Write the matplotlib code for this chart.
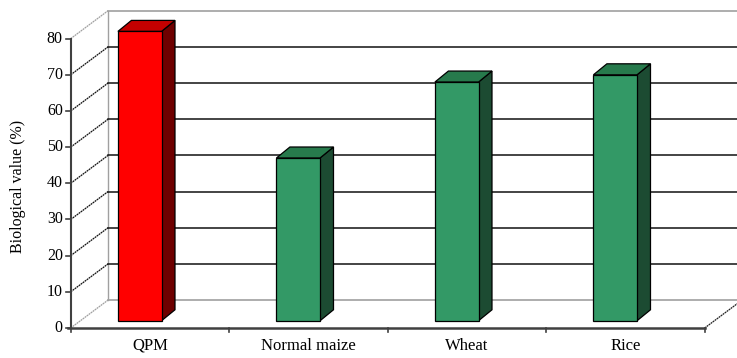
import matplotlib
matplotlib.use("Agg")
import matplotlib.pyplot as plt
from matplotlib.patches import Polygon, Rectangle

# ---- data ----
categories = ["QPM", "Normal maize", "Wheat", "Rice"]
values = [80, 45, 66, 68]
face_colors = ["#FF0000", "#339966", "#339966", "#339966"]
top_colors = ["#C40000", "#277A4C", "#277A4C", "#277A4C"]
side_colors = ["#6E0000", "#1C4B32", "#1C4B32", "#1C4B32"]
y_ticks = [0, 10, 20, 30, 40, 50, 60, 70, 80]
y_label = "Biological value (%)"

# ---- 3D geometry (in data units) ----
DX, DY = 0.235, 7.7        # full depth offset of the chart box
BDX, BDY = 0.085, 3.04     # bar depth offset
BAR_LEFT, BAR_W, BAR_BASE = 0.298, 0.275, 2.0
ncat = len(categories)
ymax = y_ticks[-1]

plt.rcParams['font.family'] = ['Liberation Serif', 'DejaVu Serif']

fig = plt.figure(figsize=(7.37, 3.58), dpi=100)
ax = fig.add_axes([0, 0, 1, 1])
ax.set_xlim(-70.7 / 158.5, (737 - 70.7) / 158.5)
ax.set_ylim((328 - 358) / 3.617, 328 / 3.617)
ax.axis('off')

far_right = ncat + 2 * DX  # beyond the visible area (cropped like reference)
grey = "#A0A0A0"

# back wall
ax.add_patch(Rectangle((DX, DY), far_right - DX, ymax, facecolor="white", edgecolor="none", zorder=0))
ax.plot([DX, DX], [DY, ymax + DY], color=grey, lw=1.0, zorder=1)
for v in y_ticks:
    c = grey if v in (0, ymax) else "#111111"
    lw = 1.2 if v in (0, ymax) else 1.1
    ax.plot([DX, far_right], [v + DY, v + DY], color=c, lw=lw, zorder=1)
    # side wall diagonals
    ax.plot([0, DX], [v, v + DY], color=c, lw=0.9, ls=(0, (1.5, 0.5)), zorder=1)

# floor
ax.plot([ncat, ncat + DX], [0, DY], color="#222222", lw=0.9, ls=(0, (1.5, 0.5)), zorder=1)
ax.plot([-0.02, ncat], [0, 0], color="#404040", lw=1.8, zorder=3)

# bars
for i, (v, fc, tc, sc) in enumerate(zip(values, face_colors, top_colors, side_colors)):
    x0 = i + BAR_LEFT
    y0 = BAR_BASE
    side = [(x0 + BAR_W, y0), (x0 + BAR_W + BDX, y0 + BDY),
            (x0 + BAR_W + BDX, y0 + v + BDY), (x0 + BAR_W, y0 + v)]
    top = [(x0, y0 + v), (x0 + BAR_W, y0 + v),
           (x0 + BAR_W + BDX, y0 + v + BDY), (x0 + BDX, y0 + v + BDY)]
    ax.add_patch(Polygon(side, closed=True, facecolor=sc, edgecolor="black", lw=0.9, zorder=4))
    ax.add_patch(Polygon(top, closed=True, facecolor=tc, edgecolor="black", lw=0.9, zorder=4))
    ax.add_patch(Rectangle((x0, y0), BAR_W, v, facecolor=fc, edgecolor="black", lw=0.9, zorder=5))

# front value axis
ax.plot([0, 0], [0, ymax], color="#404040", lw=1.5, zorder=3)
for v in y_ticks:
    ax.plot([-0.028, 0], [v, v], color="#404040", lw=1.2, zorder=3)
    ax.text(-0.05, v, str(v), ha="right", va="center", fontsize=11.5, color="black")

# category ticks and labels
for k in range(ncat + 1):
    ax.plot([k, k], [0, -1.1], color="#404040", lw=1.2, zorder=3)
for i, c in enumerate(categories):
    ax.text(i + 0.5, -4.9, c, ha="center", va="center", fontsize=12, color="black")

ax.text(-0.335, 39.0, y_label, rotation=90, ha="center", va="center", fontsize=11.5, color="black")

fig.savefig("out.png", dpi=100)
